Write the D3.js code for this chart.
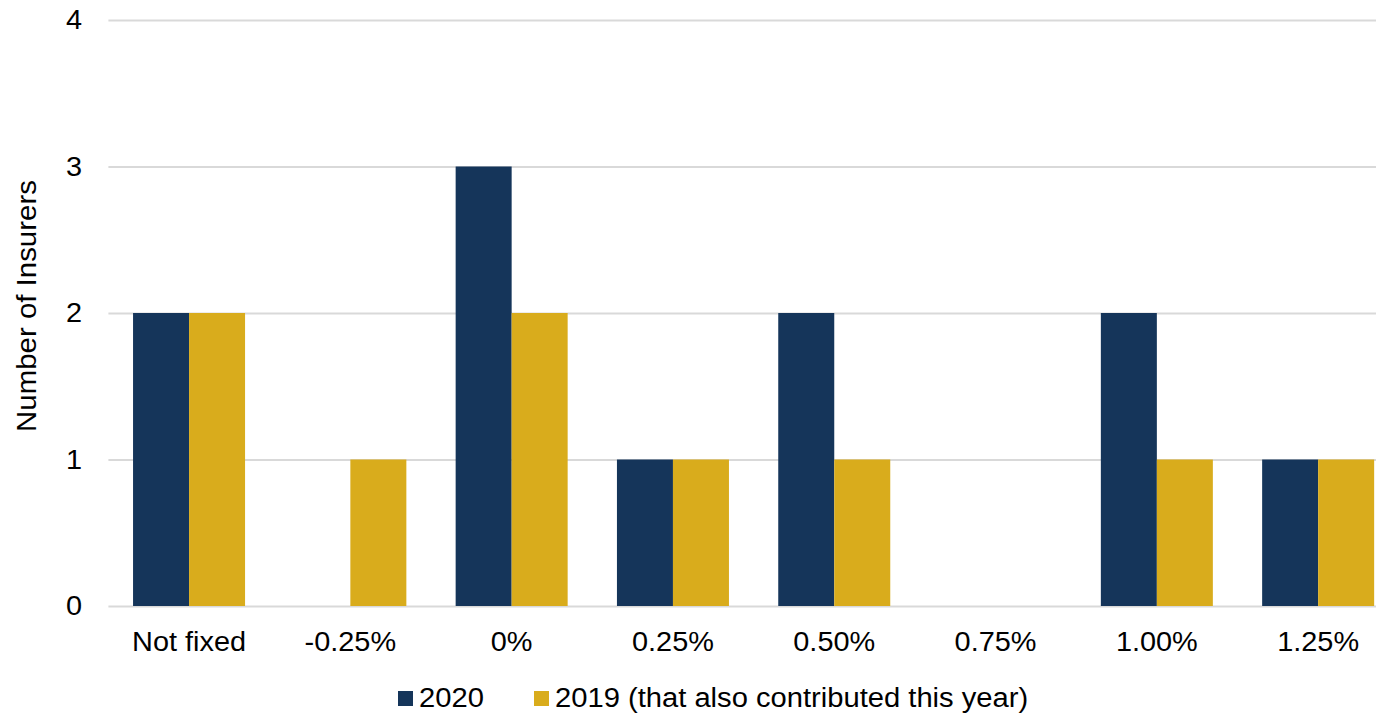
<!DOCTYPE html>
<html>
<head>
<meta charset="utf-8">
<script src="https://cdn.jsdelivr.net/npm/d3@7"></script>
<style>
html,body{margin:0;padding:0;background:#fff;}
svg{display:block;font-family:"Liberation Sans",Arial,sans-serif;}
</style>
</head>
<body>
<svg id="chart" width="1376" height="713"></svg>
<script>
const categories = ["Not fixed","-0.25%","0%","0.25%","0.50%","0.75%","1.00%","1.25%"];
const seriesNames = ["2020","2019 (that also contributed this year)"];
const values2020 = [2,0,3,1,2,0,2,1];
const values2019 = [2,1,2,1,1,0,1,1];
const yTicks = [0,1,2,3,4];
const colors = ["#15355a","#d9ac1c"];

(function(){
const svg = d3.select("#chart");
const FS = 27, SX = 1.07;
const pLeft = 108.4, pRight = 1398.8, pTop = 20, pBottom = 606;

const x0 = d3.scaleBand().domain(categories).range([pLeft, pRight])
  .paddingInner(0.3056).paddingOuter(0.1528);
const x1 = d3.scaleBand().domain(seriesNames).range([0, x0.bandwidth()]);
const y = d3.scaleLinear().domain([0,4]).range([pBottom, pTop]);

// gridlines
const yAxis = d3.axisLeft(y).tickValues(yTicks).tickSize(-(pRight-pLeft)).tickFormat("");
const g = svg.append("g").attr("transform",`translate(${pLeft},0)`).call(yAxis);
g.select(".domain").remove();
g.selectAll(".tick line").attr("stroke","#d9d9d9").attr("stroke-width",2);

// y tick labels
svg.append("g").selectAll("text").data(yTicks).join("text")
  .attr("transform", d => `translate(82,${y(d)}) scale(${SX},1)`)
  .attr("text-anchor","end").attr("dy","0.35em")
  .attr("font-size",FS).attr("fill","#000").text(d => d);

// bars
const data = categories.map((c,i) => ({c, v:[values2020[i], values2019[i]]}));
const groups = svg.append("g").selectAll("g").data(data).join("g")
  .attr("transform", d => `translate(${x0(d.c)},0)`);
groups.selectAll("rect").data(d => d.v.map((v,j)=>({v, s:seriesNames[j], j})).filter(e=>e.v>0))
  .join("rect")
  .attr("x", d => x1(d.s)).attr("width", x1.bandwidth())
  .attr("y", d => y(d.v)).attr("height", d => y(0)-y(d.v))
  .attr("fill", d => colors[d.j]);

// x labels
svg.append("g").selectAll("text").data(categories).join("text")
  .attr("transform", d => `translate(${x0(d)+x0.bandwidth()/2},651) scale(${SX},1)`)
  .attr("text-anchor","middle").attr("font-size",FS).attr("fill","#000").text(d => d);

// y title
svg.append("text")
  .attr("transform","translate(36,306) rotate(-90) scale(1.09,1)")
  .attr("text-anchor","middle").attr("font-size",FS).attr("fill","#000")
  .text("Number of Insurers");

// legend
const legendX = [398, 534];
const lg = svg.append("g").selectAll("g").data(seriesNames).join("g")
  .attr("transform",(d,i)=>`translate(${legendX[i]},0)`);
lg.append("rect").attr("x",0).attr("y",691).attr("width",15).attr("height",15)
  .attr("fill",(d,i)=>colors[i]);
lg.append("text").attr("transform",`translate(21,707) scale(1.08,1)`)
  .attr("font-size",FS).attr("fill","#000").text(d=>d);
})();
</script>
</body>
</html>
